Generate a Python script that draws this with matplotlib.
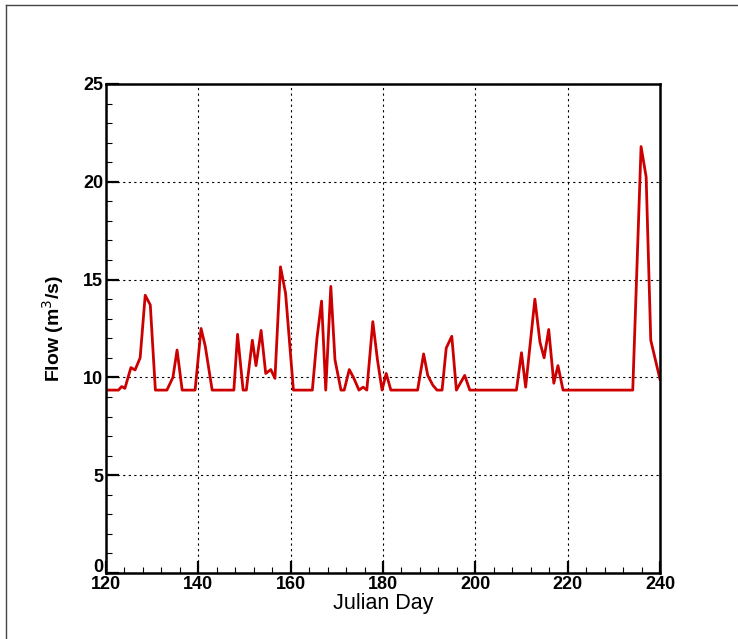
import numpy as np
import matplotlib.pyplot as plt
from matplotlib.lines import Line2D
from matplotlib.ticker import MultipleLocator, FuncFormatter

# Abfluss über Julianischen Tag
day = [120, 122.7, 123.4, 124.1, 125.4, 126.3, 127.4, 128.5, 129.6, 130.7,
       133.2, 134.5, 135.4, 136.5, 139.3, 140.6, 141.5, 143.0, 147.7, 148.5,
       149.7, 150.4, 151.7, 152.5, 153.6, 154.6, 155.7, 156.6, 157.8, 158.9,
       160.6, 164.7, 165.7, 166.7, 167.6, 168.7, 169.6, 170.9, 171.6, 172.7,
       173.6, 174.8, 175.7, 176.5, 177.8, 178.8, 179.8, 180.7, 181.7, 187.5,
       188.8, 189.7, 190.8, 191.7, 192.8, 193.7, 194.9, 195.9, 197.7, 198.8,
       208.9, 210.0, 210.9, 212.9, 214.0, 214.9, 215.9, 217.0, 217.9, 219.0,
       234.1, 235.9, 237.0, 238.0, 240.0]
flow = [9.35, 9.35, 9.53, 9.44, 10.5, 10.38, 11.0, 14.2, 13.7, 9.35,
        9.35, 10.0, 11.4, 9.35, 9.35, 12.5, 11.6, 9.35, 9.35, 12.2,
        9.35, 9.35, 11.9, 10.6, 12.4, 10.2, 10.4, 9.95, 15.65, 14.3,
        9.35, 9.35, 12.0, 13.9, 9.35, 14.65, 10.9, 9.35, 9.35, 10.4,
        10.0, 9.35, 9.5, 9.35, 12.85, 10.9, 9.35, 10.2, 9.35, 9.35,
        11.2, 10.1, 9.6, 9.35, 9.35, 11.5, 12.1, 9.35, 10.1, 9.35,
        9.35, 11.26, 9.5, 14.0, 11.8, 11.0, 12.45, 9.7, 10.6, 9.35,
        9.35, 21.8, 20.25, 11.9, 9.9]

plt.rcParams['font.family'] = ['Liberation Sans', 'DejaVu Sans']

fig = plt.figure(figsize=(7.38, 6.39), dpi=100)
ax = fig.add_axes([0.1436, 0.1033, 0.7507, 0.7653])

ax.plot(day, flow, color="#CC0000", lw=2.0)

ax.set_xlim(120, 240); ax.set_ylim(0, 25)
ax.xaxis.set_major_locator(MultipleLocator(20))
ax.xaxis.set_minor_locator(MultipleLocator(4))
ax.yaxis.set_major_locator(MultipleLocator(5))
ax.yaxis.set_minor_locator(MultipleLocator(1))
# "0" wird separat etwas höher gesetzt, sonst sitzt er auf der "120"
ax.yaxis.set_major_formatter(FuncFormatter(lambda v, p: "" if v == 0 else f"{v:g}"))
ax.tick_params(which="major", direction="in", length=9, width=1.6,
               labelsize=13, pad=2)
ax.tick_params(which="minor", direction="in", length=4.5, width=0.8)
for lab in ax.get_xticklabels() + ax.get_yticklabels():
    lab.set_fontweight("bold")
for s in ax.spines.values():
    s.set_linewidth(1.8)
ax.annotate("0", xy=(0, 0), xycoords=("axes fraction", "data"),
            xytext=(-2, 4), textcoords="offset points", ha="right", va="center",
            fontsize=13, fontweight="bold")

ax.grid(True, which="major", color="black", ls=(0, (2, 3)), lw=0.8)

ax.set_xlabel("Julian Day", fontsize=15.5, labelpad=0)
ax.set_ylabel("Flow (m$^3$/s)", fontsize=14, fontweight="bold", labelpad=12)

# Rahmen oben und links
fig.add_artist(Line2D([6/738, 1], [1 - 5/639, 1 - 5/639], color="#444444", lw=1))
fig.add_artist(Line2D([6/738, 6/738], [0, 1 - 5/639], color="#444444", lw=1))

fig.savefig("out.png", dpi=100)
